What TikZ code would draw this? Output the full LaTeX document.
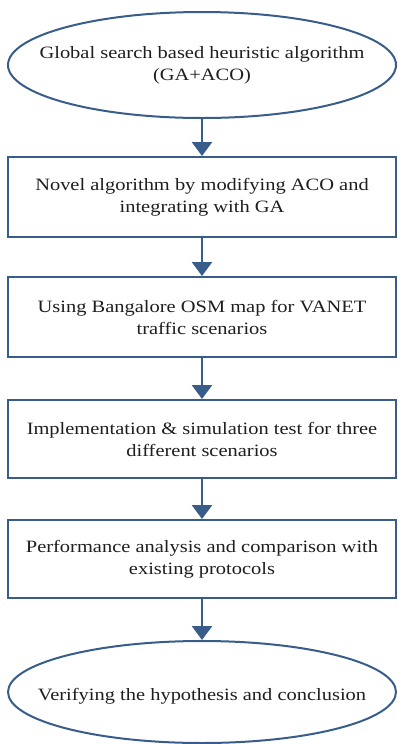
\documentclass[tikz,border=0pt]{standalone}
\usepackage{fontspec}
\setmainfont[FakeStretch=1.18]{Liberation Serif}
\usetikzlibrary{arrows.meta,shapes.geometric}
\definecolor{outl}{RGB}{56,93,138}
\definecolor{txt}{RGB}{30,30,30}
\begin{document}
\begin{tikzpicture}[x=0.75pt,y=-0.75pt,
  lbl/.style={align=center, text=txt, inner sep=0pt, font=\fontsize{13}{16.5}\selectfont},
  stepbox/.style={lbl, draw=outl, line width=1.5pt, minimum width=291pt, minimum height=60pt},
  oval/.style={ellipse, draw=outl, line width=1.5pt, minimum width=291pt, minimum height=79.5pt, inner sep=0pt},
  arr/.style={draw=outl, line width=2pt, -{Triangle[width=15pt,length=10.5pt]}}]
\useasboundingbox (0,0) rectangle (398,744);
\node[oval] (s) at (202,65) {};
\node[lbl] (st) at (s.center) {Global search based heuristic algorithm\\(GA+ACO)};
\node[stepbox] (b1) at (202,197) {Novel algorithm by modifying ACO and\\integrating with GA};
\node[stepbox] (b2) at (202,317) {Using Bangalore OSM map for VANET\\traffic scenarios};
\node[stepbox, minimum height=58.5pt] (b3) at (202,439) {Implementation \& simulation test for three\\different scenarios};
\node[stepbox, minimum height=58.5pt] (b4) at (202,559) {Performance analysis and comparison with\\existing protocols};
\node[oval, minimum height=76.5pt] (e) at (202,692) {};
\node[lbl] (et) at ([yshift=-3pt]e.center) {Verifying the hypothesis and conclusion};
\draw[arr] (s) -- (b1);
\draw[arr] (b1) -- (b2);
\draw[arr] (b2) -- (b3);
\draw[arr] (b3) -- (b4);
\draw[arr] (b4) -- (e);
\end{tikzpicture}
\end{document}
